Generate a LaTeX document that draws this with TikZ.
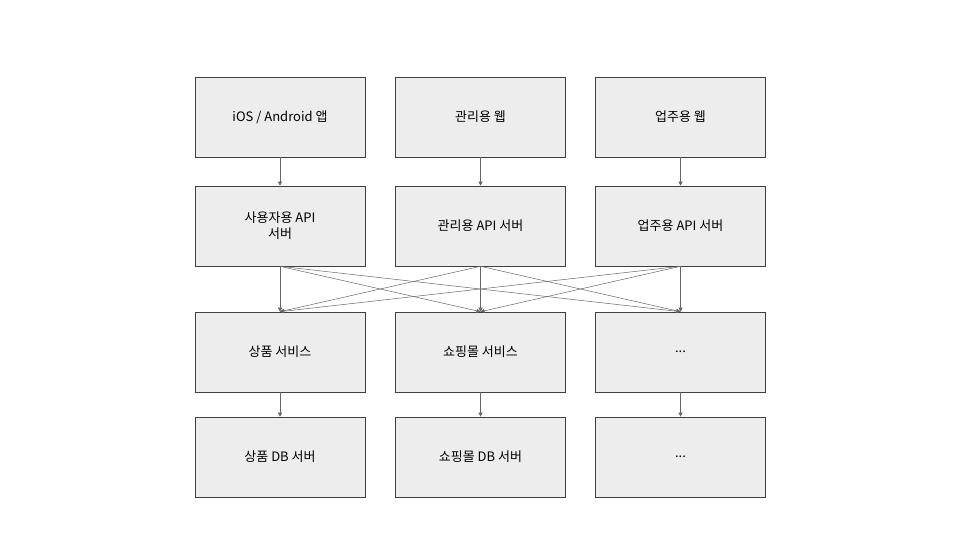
\documentclass[tikz,border=0pt]{standalone}
\usepackage{fontspec}
\setmainfont{Noto Sans CJK KR}
\usetikzlibrary{arrows.meta}
\begin{document}
\begin{tikzpicture}[x=1pt,y=-1pt,
  box/.style={draw=black!75,fill=black!7,line width=0.6pt,minimum width=170pt,minimum height=80pt,align=center,font=\fontsize{13}{16}\selectfont,inner sep=2pt},
  arr/.style={draw=black!60,line width=0.5pt,-{Triangle[length=4pt,width=4pt]}}]
\useasboundingbox (0,0) rectangle (960,540);
\node[box] (a1) at (280,117) {iOS / Android 앱};
\node[box] (a2) at (480.5,117) {관리용 웹};
\node[box] (a3) at (680.5,117) {업주용 웹};
\node[box] (b1) at (280,226) {사용자용 API\\서버};
\node[box] (b2) at (480.5,226) {관리용 API 서버};
\node[box] (b3) at (680.5,226) {업주용 API 서버};
\node[box] (c1) at (280,352) {상품 서비스};
\node[box] (c2) at (480.5,352) {쇼핑몰 서비스};
\node[box] (c3) at (680.5,352) {...};
\node[box] (d1) at (280,457) {상품 DB 서버};
\node[box] (d2) at (480.5,457) {쇼핑몰 DB 서버};
\node[box] (d3) at (680.5,457) {...};
\foreach \i in {1,2,3}{
  \draw[arr] (a\i.south) -- (b\i.north);
  \draw[arr] (c\i.south) -- (d\i.north);
  \foreach \j in {1,2,3}{\draw[arr] (b\i.south) -- (c\j.north);}
}
\end{tikzpicture}
\end{document}
